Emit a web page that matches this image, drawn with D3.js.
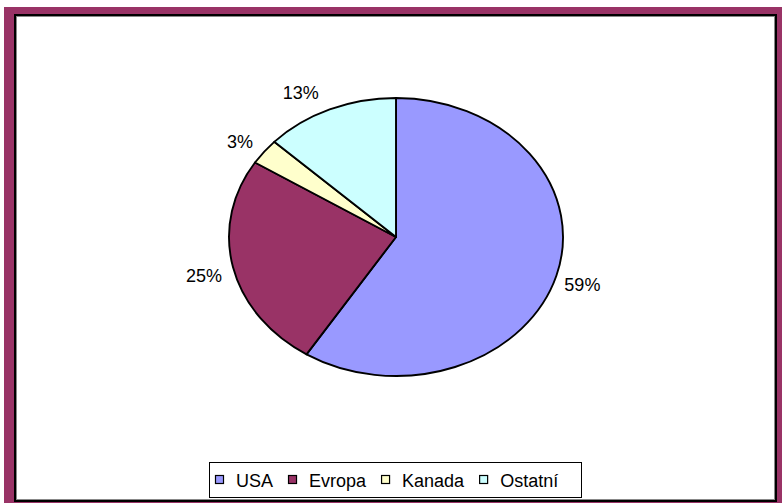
<!DOCTYPE html>
<html>
<head>
<meta charset="utf-8">
<script src="https://cdn.jsdelivr.net/npm/d3@7"></script>
<style>
  html, body { margin: 0; padding: 0; background: #ffffff; }
  svg { display: block; }
  text { font-family: "Liberation Sans", Arial, sans-serif; fill: #000; }
</style>
</head>
<body>
<svg id="chart" width="782" height="503"></svg>
<script>
// Share of each region (percent)
const categories = ["USA", "Evropa", "Kanada", "Ostatní"];
const values = [59, 25, 3, 13];
const colors = ["#9999FF", "#993366", "#FFFFCC", "#CCFFFF"];

const W = 782, H = 503;
const svg = d3.select("#chart");

// Outer frame and plot area
svg.append("rect").attr("x", 4).attr("y", 7).attr("width", W - 4).attr("height", H - 7)
  .attr("fill", "#993366");
svg.append("rect").attr("x", 15).attr("y", 15).attr("width", 761).attr("height", 486)
  .attr("fill", "#ffffff").attr("stroke", "#000").attr("stroke-width", 2);
svg.append("rect").attr("x", 16.5).attr("y", 16.5).attr("width", 758).attr("height", 483)
  .attr("fill", "none").attr("stroke", "#888").attr("stroke-width", 1);

// Pie (drawn as an ellipse: circular arcs stretched horizontally)
const cx = 396, cy = 237, rx = 167, ry = 139;
const sx = rx / ry;
const total = d3.sum(values);

const pie = d3.pie().sort(null).value(d => d.value)
  .startAngle(0).endAngle(2 * Math.PI);
const arcs = pie(categories.map((c, i) => ({ name: c, value: values[i], color: colors[i] })));
const arc = d3.arc().innerRadius(0).outerRadius(ry);

const g = svg.append("g").attr("transform", `translate(${cx},${cy}) scale(${sx},1)`);
g.selectAll("path").data(arcs).join("path")
  .attr("d", arc)
  .attr("fill", d => d.data.color)
  .attr("stroke", "#000")
  .attr("stroke-width", 1.9)
  .attr("stroke-linejoin", "round")
  .attr("vector-effect", "non-scaling-stroke");

// Percentage labels outside the slices
const fmt = v => Math.round(v / total * 100) + "%";
svg.append("g").selectAll("text").data(arcs).join("text")
  .each(function (d) {
    const a = (d.startAngle + d.endAngle) / 2;
    const s = Math.sin(a), c = Math.cos(a);
    const px = cx + rx * s, py = cy - ry * c;
    d3.select(this)
      .attr("x", px + (s >= 0 ? 8 : -11))
      .attr("y", py - 22 * c + 9.5)
      .attr("text-anchor", s >= 0 ? "start" : "end");
  })
  .attr("font-size", 18)
  .text(d => fmt(d.data.value));

// Legend
const legend = svg.append("g");
const box = legend.append("rect").attr("fill", "#fff").attr("stroke", "#000").attr("stroke-width", 1);
const items = legend.append("g");
let x = 0;
categories.forEach((c, i) => {
  const it = items.append("g").attr("transform", `translate(${x},0)`);
  it.append("rect").attr("x", 0.5).attr("y", -11.5).attr("width", 8).attr("height", 8)
    .attr("fill", colors[i]).attr("stroke", "#000").attr("stroke-width", 1.2);
  const t = it.append("text").attr("x", 21).attr("y", 0).attr("font-size", 18).text(c);
  x += 21 + t.node().getComputedTextLength() + 15;
});
const bx = 209, bw = 372;
items.attr("transform", `translate(${bx + 6},487)`);
box.attr("x", bx + 0.5).attr("y", 462.5).attr("width", bw).attr("height", 35);
</script>
</body>
</html>
